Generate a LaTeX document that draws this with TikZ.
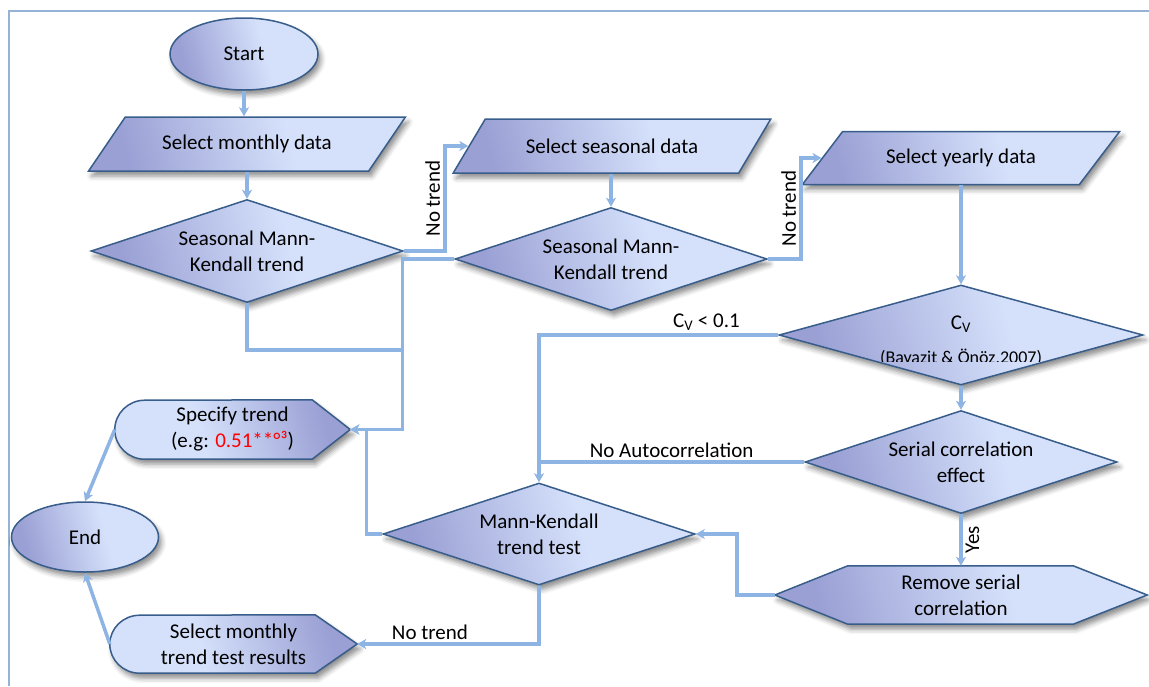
\documentclass[tikz,border=0pt]{standalone}
\usepackage{fontspec}
\setmainfont{Carlito}
\usetikzlibrary{shapes.geometric, arrows.meta, calc, shadows.blur}

\definecolor{fcdark}{RGB}{154,160,212}
\definecolor{fclight}{RGB}{213,225,251}
\definecolor{fcedge}{RGB}{56,93,138}
\definecolor{fcline}{RGB}{141,180,226}
\definecolor{fcframe}{RGB}{149,179,215}

% gradient fills: dark on the left, light on the right (and reversed)
\pgfdeclarehorizontalshading{fcshade}{100bp}{color(0bp)=(fcdark); color(27bp)=(fcdark); color(58bp)=(fclight); color(100bp)=(fclight)}
\pgfdeclarehorizontalshading{fcshaderev}{100bp}{color(0bp)=(fclight); color(42bp)=(fclight); color(73bp)=(fcdark); color(100bp)=(fcdark)}

\pgfdeclarelayer{bg}
\pgfsetlayers{bg,main}

\newcommand\fcfont{\fontsize{21}{26}\selectfont}
\newcommand\fcsmall{\fontsize{18}{22}\selectfont}

\tikzset{
  box/.style={draw=fcedge, line width=1.5pt, shading=fcshade, shading angle=15,
    blur shadow={shadow xshift=3pt, shadow yshift=-5pt, shadow blur radius=5pt, shadow opacity=45},
    font=\fcfont, align=center},
  terminal/.style={box, ellipse, inner sep=0pt, minimum width=148pt, minimum height=72pt},
  iobox/.style={box, trapezium, trapezium left angle=40, trapezium right angle=140,
    trapezium stretches=true, inner sep=2pt, minimum width=318pt, minimum height=54pt},
  decision/.style={box, diamond, aspect=3, inner sep=0pt, minimum width=312pt, minimum height=103pt},
  lbl/.style={font=\fcfont, align=center, inner sep=0pt},
  conn/.style={draw=fcline, line width=3.5pt, -{Stealth[length=9pt, width=10pt, inset=2.5pt]}},
  joinline/.style={draw=fcline, line width=3.5pt},
  edgelabel/.style={font=\fcfont, inner sep=3pt},
  frame/.style={draw=fcframe, line width=2.5pt}
}

\begin{document}
\begin{tikzpicture}[x=1pt, y=-1pt]
\useasboundingbox (0,0) rectangle (1149,686);

% page frame (top and left rules)
\draw[frame] (1149,11) -- (9,11) -- (9,686);

% ---- nodes ----
\node[terminal] (start) at (244,54) {Start};
\node[iobox] (smd) at (247,144) {Select monthly data};
\node[decision] (d1) at (247,251) {Seasonal Mann-\\Kendall trend};

\node[iobox] (ssd) at (612,146) {Select seasonal data};
\node[decision] (d2) at (611,259) {Seasonal Mann-\\Kendall trend};

\node[iobox, minimum height=53pt] (syd) at (961,158) {Select yearly data};

\node[decision, minimum width=364pt, minimum height=100pt] (cv) at (961,335) {};
\node[lbl] (cvsym) at (961,324) {C\textsubscript{V}};
\begin{scope}
  \clip (760,290) rectangle (1160,361);
  \node[lbl, font=\fcsmall, anchor=base] (cvref) at (961,363) {(Bayazit \& Önöz,2007)};
\end{scope}

\node[decision] (sc) at (961,462) {Serial correlation\\effect};
\node[lbl, minimum width=372pt, minimum height=58pt] (rem) at (961,595) {Remove serial\\correlation};

\node[decision, minimum height=102pt] (mk) at (539,534) {Mann-Kendall\\trend test};

\node[lbl, minimum width=235pt, minimum height=59pt] (spec) at (232.5,429.5)
  {Specify trend\\(e.g: \textcolor{red}{0.51**°³})};
\node[terminal, minimum width=147pt, minimum height=70pt] (end) at (85,537) {End};
\node[lbl, minimum width=247pt, minimum height=58pt] (res) at (233.5,644)
  {Select monthly\\trend test results};

% ---- outlines of the hexagon and display shapes ----
\begin{pgfonlayer}{bg}
  \path[box] (rem.west) -- ($(rem.north west)+(73,0)$) -- ($(rem.north east)+(-74,0)$)
    -- (rem.east) -- ($(rem.south east)+(-74,0)$) -- ($(rem.south west)+(73,0)$) -- cycle;
  \path[box, shading=fcshaderev] ($(spec.north east)+(-38,0)$) -- (spec.east)
    -- ($(spec.south east)+(-38,0)$) -- ($(spec.south west)+(30,0)$)
    arc[start angle=270, end angle=90, x radius=30pt, y radius=29.5pt] -- cycle;
  \path[box, shading=fcshaderev] ($(res.north east)+(-42,0)$) -- (res.east)
    -- ($(res.south east)+(-42,0)$) -- ($(res.south west)+(30,0)$)
    arc[start angle=270, end angle=90, x radius=30pt, y radius=29pt] -- cycle;
\end{pgfonlayer}

% ---- connectors ----
\coordinate (merge) at (403,350);

\draw[conn] (start.south) -- (start.south |- smd.north);
\draw[conn] (smd.south -| d1.north) -- (d1.north);
\draw[conn] (d1.east) -- ++(41,0) |- (ssd.180)
  node[edgelabel, pos=0.25, rotate=90, above] {No trend};
\draw[conn] (ssd.south -| d2.north) -- (d2.north);
\draw[conn] (d2.east) -- ++(33,0) |- (syd.180)
  node[edgelabel, pos=0.25, rotate=90, above] {No trend};
\draw[conn] (d2.west) -- ++(-52,0) |- (spec.east);
\draw[joinline] (d1.south) |- (merge);
\draw[conn] (syd.south -| cv.north) -- (cv.north);
\draw[conn] (cv.south) -- (sc.north);
\draw[conn] (cv.west) -| (mk.north)
  node[edgelabel, pos=0.15, above] {C\textsubscript{V} < 0.1};
\draw[joinline] (sc.west) -- (sc.west -| mk.north)
  node[edgelabel, midway, above] {No Autocorrelation};
\draw[conn] (sc.south) -- (rem.north)
  node[edgelabel, midway, rotate=90, below] {Yes};
\draw[conn] (rem.west) -- ++(-38,0) |- (mk.east);
\draw[conn] (mk.west) -- ++(-16,0) |- (spec.east);
\draw[conn] (mk.south) |- (res.east)
  node[edgelabel, pos=0.8, above] {No trend};
\draw[conn] (spec.west) -- (end.north);
\draw[conn] (res.west) -- (end.south);

\end{tikzpicture}
\end{document}
